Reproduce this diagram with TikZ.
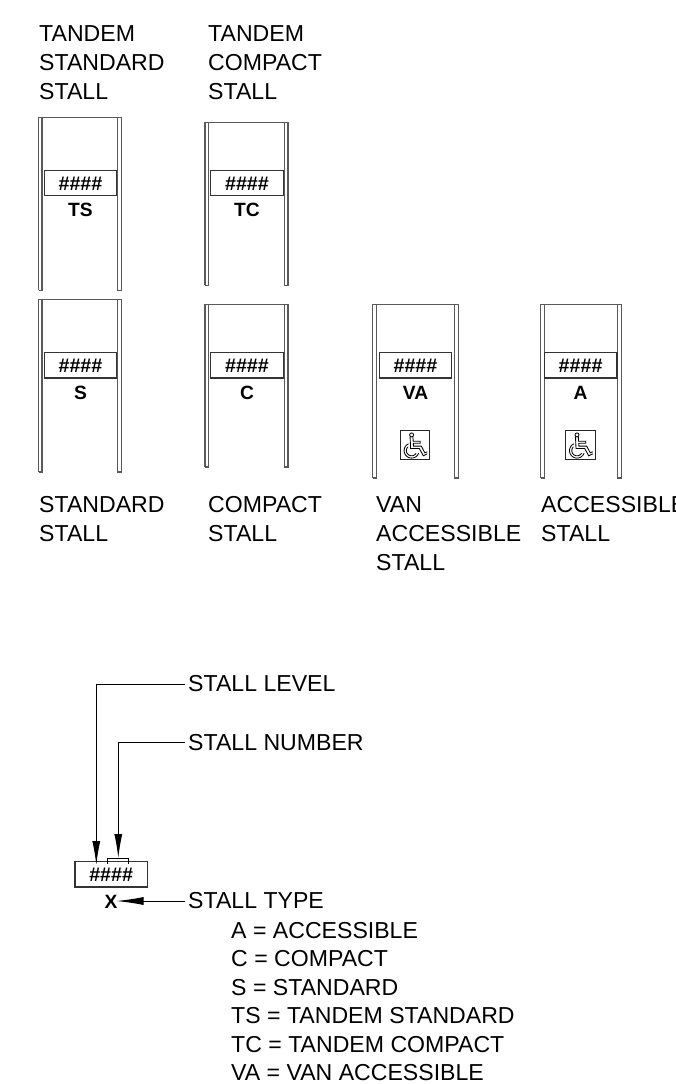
\documentclass[tikz,border=0pt]{standalone}
\usepackage{fontspec}
\setmainfont{Liberation Sans}
\usetikzlibrary{arrows.meta}
\tikzset{
  x=1pt,y=-1pt,
  lbl/.style={anchor=base west,inner sep=0pt,font=\fontsize{23.1}{23.1}\selectfont},
  tag/.style={anchor=base,inner sep=0pt,font=\fontsize{19.2}{19.2}\selectfont\bfseries},
  hashes/.style={anchor=base,inner sep=0pt,font=\fontsize{19.7}{19.7}\selectfont\bfseries},
  ln/.style={draw=black!65,line width=1.1pt},
  plate/.style={draw=black!80,line width=1.1pt,fill=white},
  leader/.style={draw=black,line width=1pt},
  tipped/.style={leader,-{Latex[length=24pt,width=8pt]}},
  tipnear/.style={leader,-{Latex[length=27pt,width=8pt]}},
  wheel/.style={draw=black,line width=0.85pt},
}
% #1 name, #2 outer left, #3 inner left, #4 inner right, #5 outer right, #6 top, #7 bottom
\newcommand{\stallbody}[7]{%
  \draw[ln] (#2,#7) -- (#2,#6) -- (#5,#6) -- (#5,#7) -- (#4,#7) -- (#4,#6);
  \draw[ln] (#2,#7) -- (#3,#7) -- (#3,#6);
}
% #1 name, #2 left, #3 right, #4 top, #5 bottom, #6 type tag
\newcommand{\stallplate}[6]{%
  \path[plate] (#2,#4) rectangle (#3,#5);
  \node[hashes] (#1h) at ({(#2+#3)/2},{#5-5.5}) {\#\#\#\#};
  \node[tag] (#1t) at ({(#2+#3)/2},{#5+21}) {#6};
}
% wheelchair sign, top-left at (#1,#2), 29.5 square
\newcommand{\wheelsign}[2]{%
  \begin{scope}[shift={(#1,#2)}]
    \draw[draw=black!85,line width=1.2pt] (0,0) rectangle (29.5,29.5);
    \draw[wheel] (11.3,4.6) circle[radius=2];
    \draw[wheel] (9.8,6.6) -- (10.3,18.2) -- (19,18.2) -- (23,25.5) -- (27,23.5);
    \draw[wheel] (12.6,6.6) -- (12.9,11) -- (20,11) -- (20,13) -- (13,13) -- (13.2,15.8) -- (21,15.8) -- (24.5,22.5) -- (27,21.5);
    \draw[wheel] plot[smooth,domain=20:245,samples=20] ({11.3+7.5*cos(\x)},{20.3+7.5*sin(\x)});
    \draw[wheel] plot[smooth,domain=30:225,samples=20] ({11.3+5.2*cos(\x)},{20.3+5.2*sin(\x)});
  \end{scope}%
}
\begin{document}
\begin{tikzpicture}
\useasboundingbox (0,0) rectangle (676,1084);
% column titles
\node[lbl] (t1a) at (39,41) {TANDEM};
\node[lbl] (t1b) at (39,70) {STANDARD};
\node[lbl] (t1c) at (39,99) {STALL};
\node[lbl] (t2a) at (208,41) {TANDEM};
\node[lbl] (t2b) at (208,70) {COMPACT};
\node[lbl] (t2c) at (208,99) {STALL};
% stalls
\stallbody{ts}{38.5}{42}{117.5}{121.3}{117.3}{290.3}
\stallplate{ts}{44.3}{116.7}{170.7}{195.7}{TS}
\stallbody{tc}{205}{208.3}{284.5}{288}{122.7}{285.3}
\stallplate{tc}{210.7}{283.3}{170.7}{195.7}{TC}
\stallbody{s}{38.5}{42}{117.5}{121.3}{299.3}{472}
\stallplate{s}{44.3}{116.7}{352.7}{378}{S}
\stallbody{c}{205}{208.3}{284.5}{288}{304.3}{467}
\stallplate{c}{210.7}{283.3}{352.7}{378}{C}
\stallbody{va}{372.7}{376.7}{454.3}{458.3}{304.3}{478}
\stallplate{va}{379.3}{451.7}{352.7}{378}{VA}
\wheelsign{400.3}{430.3}
\stallbody{a}{540.7}{544.3}{617.3}{621.3}{304.3}{478}
\stallplate{a}{544.3}{617}{352.7}{378}{A}
\wheelsign{565.7}{430.3}
% captions
\node[lbl] (c1a) at (39,512) {STANDARD};
\node[lbl] (c1b) at (39,541) {STALL};
\node[lbl] (c2a) at (208,512) {COMPACT};
\node[lbl] (c2b) at (208,541) {STALL};
\node[lbl] (c3a) at (376,512) {VAN};
\node[lbl] (c3b) at (376,541) {ACCESSIBLE};
\node[lbl] (c3c) at (376,570) {STALL};
\node[lbl] (c4a) at (541,512) {ACCESSIBLE};
\node[lbl] (c4b) at (541,541) {STALL};
% key
\path[plate] (75,861.7) rectangle (147.3,887);
\node[hashes] (kh) at (111.2,881.5) {\#\#\#\#};
\node[tag] (kx) at (111,908) {X};
\node[lbl] (lv) at (188,691.5) {STALL LEVEL};
\node[lbl] (nm) at (188,750) {STALL NUMBER};
\node[lbl] (ty) at (188,908.5) {STALL TYPE};
\node[lbl] (k1) at (231,938) {A = ACCESSIBLE};
\node[lbl] (k2) at (231,966.5) {C = COMPACT};
\node[lbl] (k3) at (231,995) {S = STANDARD};
\node[lbl] (k4) at (231,1023.5) {TS = TANDEM STANDARD};
\node[lbl] (k5) at (231,1052) {TC = TANDEM COMPACT};
\node[lbl] (k6) at (231,1080.5) {VA = VAN ACCESSIBLE};
\coordinate (lvT) at (96.3,865);
\coordinate (nmT) at (118.3,858);
\coordinate (brL) at (107,864);
\coordinate (brR) at (128.3,864);
\coordinate (tyT) at (116.5,901);
\coordinate (lvS) at (185,684);
\coordinate (nmS) at (185,742.7);
\coordinate (tyS) at (185,901);
\draw[tipped] (lvS) -| (lvT);
\draw[tipped] (nmS) -| (nmT);
\draw[leader] (brL) -- (107,858) -- (128.3,858) -- (brR);
\draw[tipnear] (tyS) -- (tyT);
\end{tikzpicture}
\end{document}
